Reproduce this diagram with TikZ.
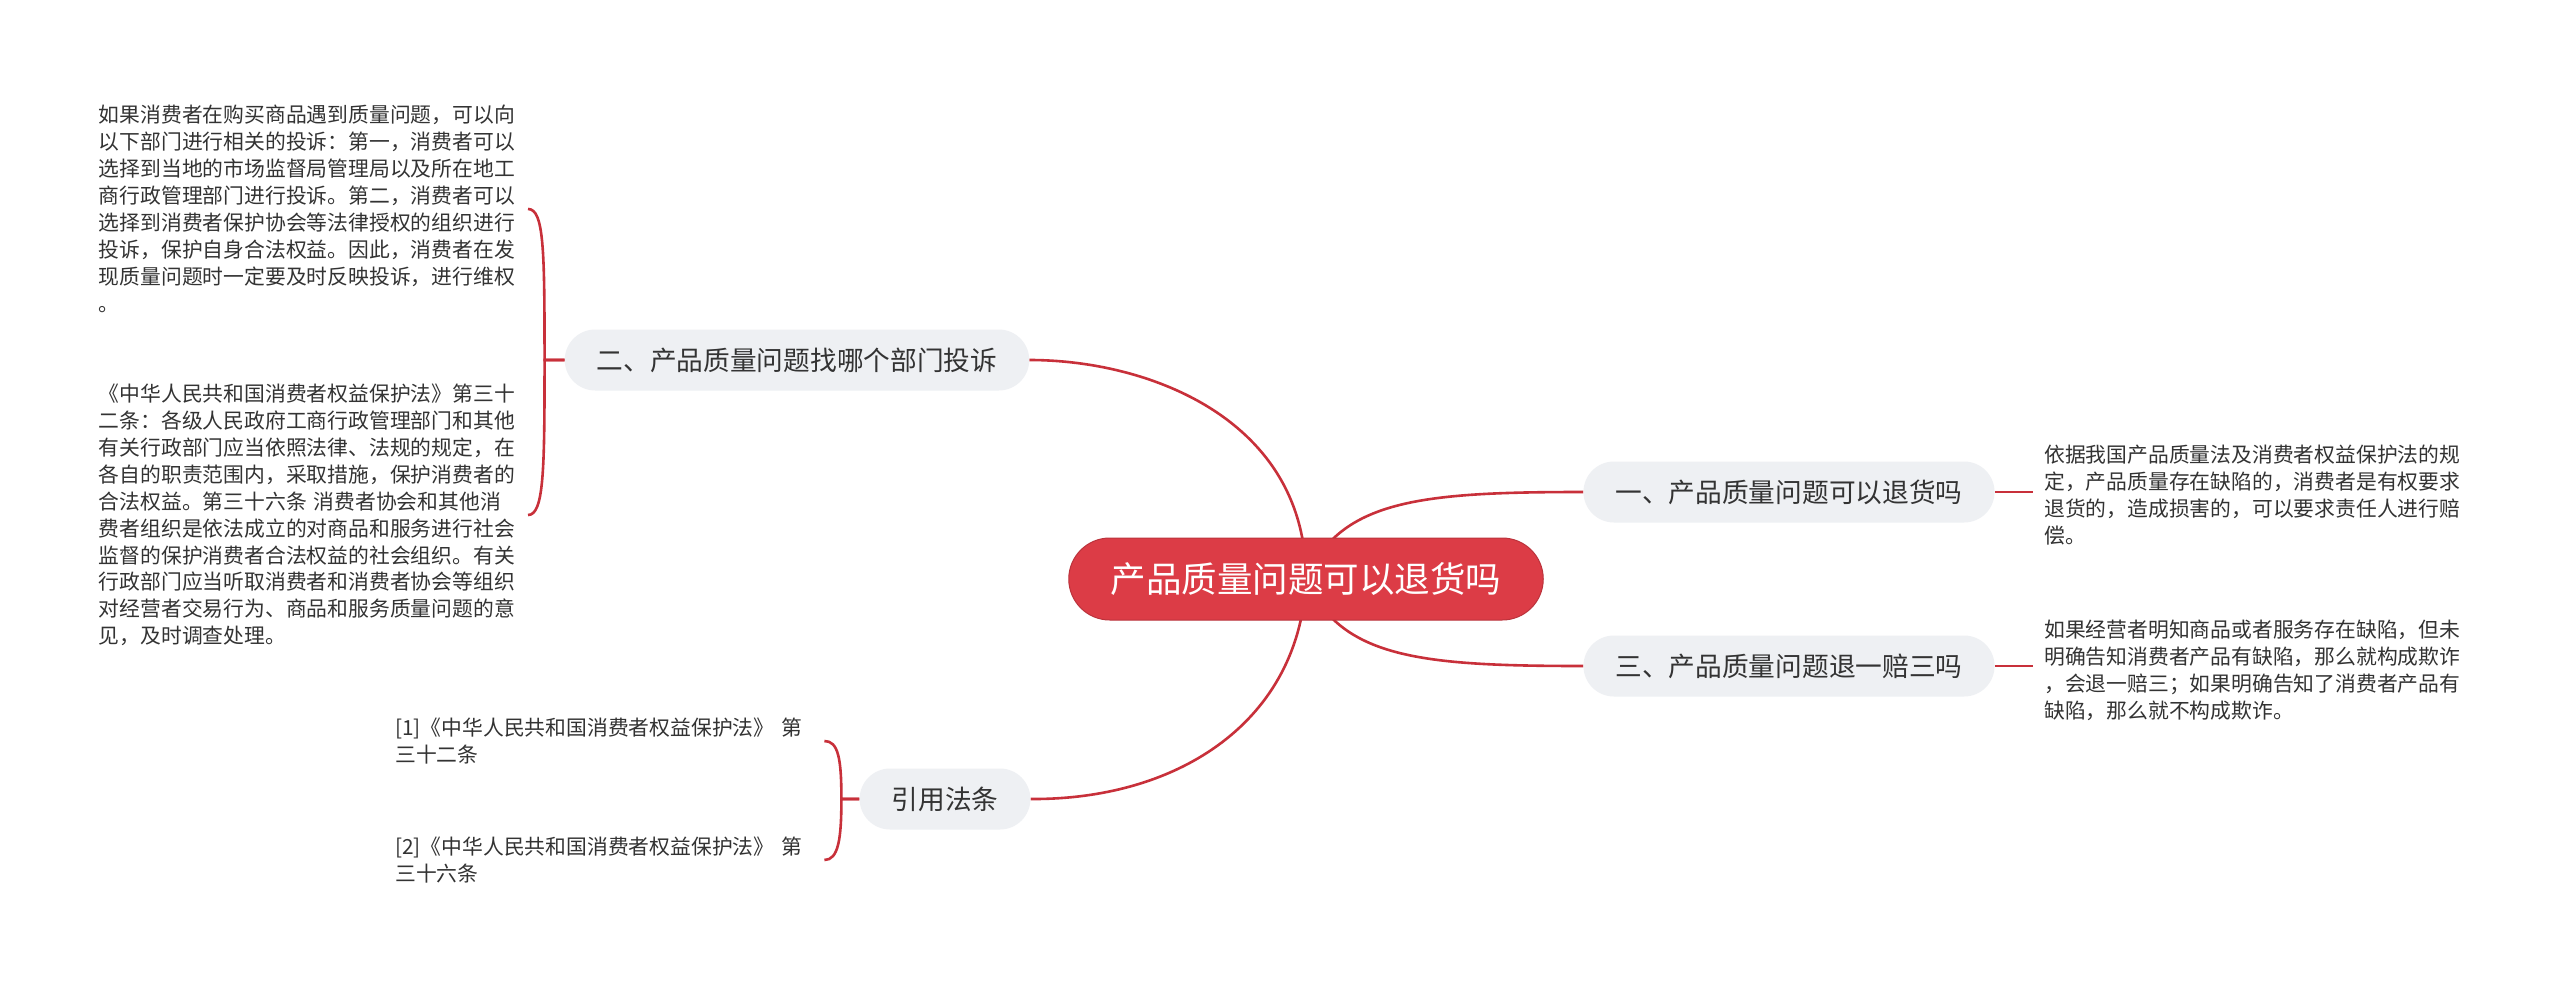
\documentclass[tikz,border=0pt]{standalone}
\usepackage{fontspec}
\newfontfamily\cjk{Noto Sans CJK SC}
\usetikzlibrary{positioning,backgrounds}
\definecolor{rootred}{HTML}{DC3C46}
\definecolor{linkred}{HTML}{C8303A}
\definecolor{pillgray}{HTML}{EEF0F3}
\definecolor{inkgray}{HTML}{333333}

\begin{document}
\begin{tikzpicture}[x=1pt,y=-1pt,
        topic/.style={fill=rootred, draw=rootred!85!black, line width=1pt, rounded corners=41pt, minimum height=82pt, inner xsep=42pt, text=white, font=\cjk\fontsize{35.5}{40}\selectfont},
        branch/.style={fill=pillgray, rounded corners=30.5pt, minimum height=61pt, inner xsep=32pt, text=inkgray, font=\cjk\fontsize{26.7}{30}\selectfont},
        leaf/.style={text width=418pt, align=left, inner xsep=11pt, text=inkgray, font=\cjk\fontsize{20.8}{26.9}\selectfont},
        link/.style={draw=linkred, line width=2.6pt}]
        \useasboundingbox (0,0) rectangle (2560,985);

        \node [topic] (root) at (1306,579) {产品质量问题可以退货吗};

        \node [branch] (b1) at (1789,492) {一、产品质量问题可以退货吗};
        \node [branch] (b3) at (1789,666) {三、产品质量问题退一赔三吗};
        \node [branch] (b2) at (797,360) {二、产品质量问题找哪个部门投诉};
        \node [branch] (b4) at (945,799) {引用法条};

        \node [leaf, anchor=west] (leaf1) at (2033,495) {依据我国产品质量法及消费者权益保护法的规\\定，产品质量存在缺陷的，消费者是有权要求\\退货的，造成损害的，可以要求责任人进行赔\\偿。};
        \node [leaf, anchor=west] (leaf3) at (2033,670) {如果经营者明知商品或者服务存在缺陷，但未\\明确告知消费者产品有缺陷，那么就构成欺诈\\，会退一赔三；如果明确告知了消费者产品有\\缺陷，那么就不构成欺诈。};
        \node [leaf, anchor=east] (leaf2a) at (528,209) {如果消费者在购买商品遇到质量问题，可以向\\以下部门进行相关的投诉：第一，消费者可以\\选择到当地的市场监督局管理局以及所在地工\\商行政管理部门进行投诉。第二，消费者可以\\选择到消费者保护协会等法律授权的组织进行\\投诉，保护自身合法权益。因此，消费者在发\\现质量问题时一定要及时反映投诉，进行维权\\。};
        \node [leaf, anchor=east] (leaf2b) at (528,515) {《中华人民共和国消费者权益保护法》第三十\\二条：各级人民政府工商行政管理部门和其他\\有关行政部门应当依照法律、法规的规定，在\\各自的职责范围内，采取措施，保护消费者的\\合法权益。第三十六条 消费者协会和其他消\\费者组织是依法成立的对商品和服务进行社会\\监督的保护消费者合法权益的社会组织。有关\\行政部门应当听取消费者和消费者协会等组织\\对经营者交易行为、商品和服务质量问题的意\\见，及时调查处理。};
        \node [leaf, anchor=west] (cite1) at (384,741) {[1]《中华人民共和国消费者权益保护法》 第\\三十二条};
        \node [leaf, anchor=west] (cite2) at (384,860) {[2]《中华人民共和国消费者权益保护法》 第\\三十六条};

        \begin{pgfonlayer}{background}
        \fill[white] (0,0) rectangle (2560,985);
        \draw[link] (root.center) .. controls (1340,500) and (1420,492) .. (b1.west);
        \draw[link] (root.center) .. controls (1340,658) and (1420,666) .. (b3.west);
        \draw[link] (root.center) .. controls (1306,420) and (1150,360) .. (b2.east);
        \draw[link] (root.center) .. controls (1300,720) and (1180,800) .. (b4.east);

        \draw[link] (b1.east) -- (b1.east -| leaf1.west);
        \draw[link] (b3.east) -- (b3.east -| leaf3.west);

        \draw[link] (b2.west) -- ++(-20,0) .. controls +(0,-110) and +(16,0) .. (leaf2a.east);
        \draw[link] (b2.west) -- ++(-20,0) .. controls +(0,110) and +(16,0) .. (leaf2b.east);
        \draw[link] (b4.west) -- ++(-18,0) .. controls +(0,-40) and +(14,0) .. (cite1.east);
        \draw[link] (b4.west) -- ++(-18,0) .. controls +(0,40) and +(14,0) .. (cite2.east);
        \end{pgfonlayer}
    \end{tikzpicture}
\end{document}
